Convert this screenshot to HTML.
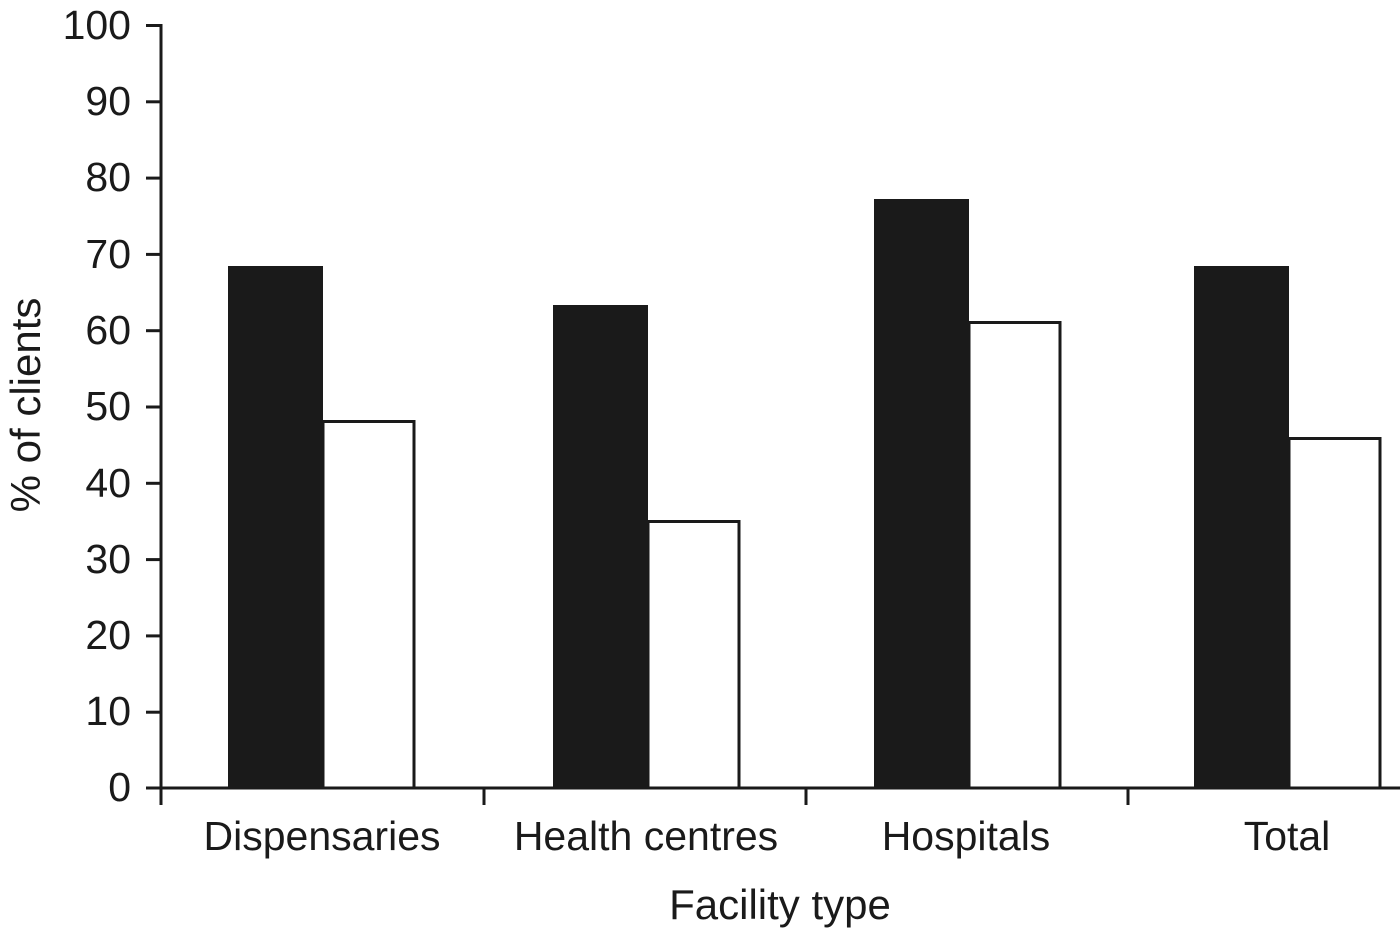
<!DOCTYPE html>
<html><head><style>body{margin:0;background:#fff}</style></head><body>
<svg width="1400" height="931" xmlns="http://www.w3.org/2000/svg" font-family="Liberation Sans, sans-serif">
<g fill="#1a1a1a">
<rect x="228" y="266" width="95" height="522"/>
<rect x="553" y="305" width="95" height="483"/>
<rect x="874" y="199" width="95" height="589"/>
<rect x="1194" y="266" width="95" height="522"/>
</g>
<g fill="#fff" stroke="#1a1a1a" stroke-width="3">
<rect x="323" y="421.5" width="91" height="366.5"/>
<rect x="648" y="521.5" width="91" height="266.5"/>
<rect x="969" y="322.5" width="91" height="465.5"/>
<rect x="1289" y="438.5" width="91" height="349.5"/>
</g>
<g stroke="#1a1a1a" stroke-width="3" fill="none">
<line x1="161" y1="24" x2="161" y2="805"/>
<line x1="146" y1="788" x2="1400" y2="788"/>
<line x1="484" y1="788" x2="484" y2="805"/>
<line x1="806" y1="788" x2="806" y2="805"/>
<line x1="1128" y1="788" x2="1128" y2="805"/>
<line x1="146" y1="25.5" x2="161" y2="25.5"/><line x1="146" y1="101.8" x2="161" y2="101.8"/>
<line x1="146" y1="178.1" x2="161" y2="178.1"/><line x1="146" y1="254.4" x2="161" y2="254.4"/>
<line x1="146" y1="330.7" x2="161" y2="330.7"/><line x1="146" y1="407" x2="161" y2="407"/>
<line x1="146" y1="483.3" x2="161" y2="483.3"/><line x1="146" y1="559.6" x2="161" y2="559.6"/>
<line x1="146" y1="635.9" x2="161" y2="635.9"/><line x1="146" y1="712.2" x2="161" y2="712.2"/>
</g>
<g font-size="41" fill="#1a1a1a" text-anchor="end">
<text x="131" y="39">100</text><text x="131" y="115">90</text><text x="131" y="191">80</text>
<text x="131" y="268">70</text><text x="131" y="344">60</text><text x="131" y="420">50</text>
<text x="131" y="497">40</text><text x="131" y="573">30</text><text x="131" y="649">20</text>
<text x="131" y="725">10</text><text x="131" y="801">0</text>
</g>
<g font-size="41" fill="#1a1a1a" text-anchor="middle">
<text x="322" y="850">Dispensaries</text>
<text x="646" y="850">Health centres</text>
<text x="966" y="850">Hospitals</text>
<text x="1287" y="850">Total</text>
<text x="780" y="919" font-size="42">Facility type</text>
<text transform="translate(40,405) rotate(-90)" font-size="42">% of clients</text>
</g>
</svg>
</body></html>
